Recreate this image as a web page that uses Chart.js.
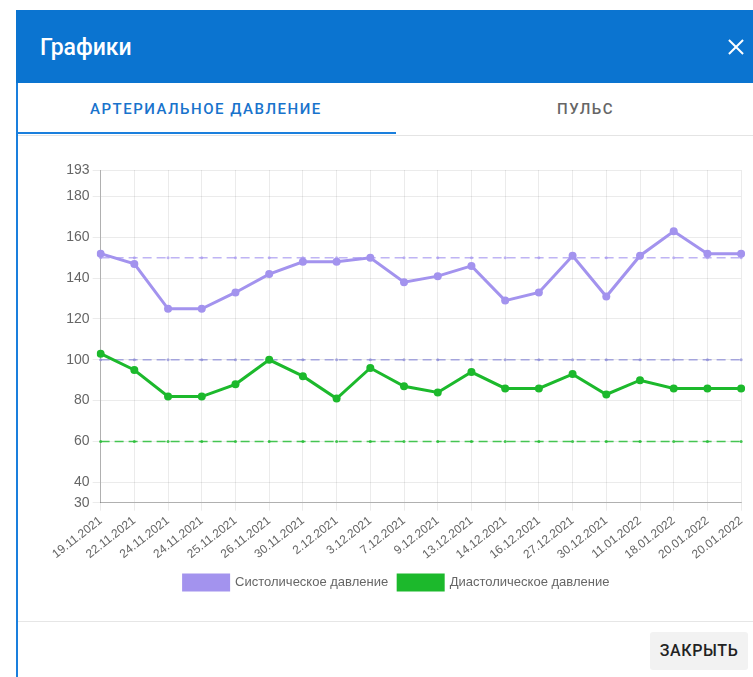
<!DOCTYPE html>
<html>
<head>
<meta charset="utf-8">
<script src="https://cdn.jsdelivr.net/npm/chart.js@4"></script>
<style>
  body { margin: 0; width: 753px; height: 677px; background: #fff; overflow: hidden; font-family: Roboto, sans-serif; position: relative; }
  .dialog { position: absolute; left: 16px; top: 10px; width: 760px; height: 700px; background: #fff; border-left: 2px solid #1a7fdd; }
  .header { position: absolute; left: -2px; top: 0; width: 762px; height: 73px; background: #0b74d0; }
  .header h1 { position: absolute; left: 24px; top: 24px; margin: 0; font-size: 23px; font-weight: 500; color: #fff; }
  .close { position: absolute; left: 712px; top: 29px; width: 16px; height: 16px; }
  .close::before, .close::after { content: ""; position: absolute; left: -2px; top: 7px; width: 20px; height: 2px; background: #fff; }
  .close::before { transform: rotate(45deg); }
  .close::after { transform: rotate(-45deg); }
  .tabs { position: absolute; left: 0; top: 73px; width: 760px; height: 52px; border-bottom: 1px solid #e4e4e4; }
  .tab { position: absolute; top: 17px; font-size: 15px; font-weight: 500; letter-spacing: 1.5px; }
  .tab1 { left: 72px; color: #1873cc; }
  .tab2 { left: 539px; color: #666; }
  .ink { position: absolute; left: 0; top: 49px; width: 378px; height: 2px; background: #1a7fdd; }
  .chartbox { position: absolute; left: 33px; top: 145px; width: 702px; height: 445px; }
  .footer { position: absolute; left: 0; top: 611px; width: 760px; border-top: 1px solid #e6e6e6; }
  .btn { position: absolute; left: 632px; top: 10px; width: 98px; height: 38px; background: #f2f2f2; border-radius: 3px; font-size: 16px; font-weight: 500; color: #222; text-align: center; line-height: 38px; letter-spacing: 0.6px; }
</style>
</head>
<body>
<div class="dialog">
  <div class="header"><h1>Графики</h1><div class="close"></div></div>
  <div class="tabs">
    <div class="tab tab1">АРТЕРИАЛЬНОЕ ДАВЛЕНИЕ</div>
    <div class="tab tab2">ПУЛЬС</div>
    <div class="ink"></div>
  </div>
  <div class="chartbox"><canvas id="bpChart"></canvas></div>
  <div class="footer"><div class="btn">ЗАКРЫТЬ</div></div>
</div>
<script>
const dates = [
  "19.11.2021", "22.11.2021", "24.11.2021", "24.11.2021", "25.11.2021",
  "26.11.2021", "30.11.2021", "2.12.2021", "3.12.2021", "7.12.2021",
  "9.12.2021", "13.12.2021", "14.12.2021", "16.12.2021", "27.12.2021",
  "30.12.2021", "11.01.2022", "18.01.2022", "20.01.2022", "20.01.2022"
];
const systolic = [152, 147, 125, 125, 133, 142, 148, 148, 150, 138, 141, 146, 129, 133, 151, 131, 151, 163, 152, 152];
const diastolic = [103, 95, 82, 82, 88, 100, 92, 81, 96, 87, 84, 94, 86, 86, 93, 83, 90, 86, 86, 86];
const systolicNorm = 150;
const upperNorm = 100;
const diastolicNorm = 60;
const yMin = 30;
const yMax = 193;

const font = "'Helvetica Neue', Helvetica, 'Liberation Sans', Arial, sans-serif";

function normLine(value, color) {
  return {
    label: "norm",
    data: dates.map(() => value),
    borderColor: color,
    backgroundColor: color,
    borderWidth: 1.5,
    borderDash: [9, 5],
    pointRadius: 1.5,
    pointBorderWidth: 0,
    fill: false,
  };
}

const ctx = document.getElementById("bpChart").getContext("2d");
new Chart(ctx, {
  type: "line",
  data: {
    labels: dates,
    datasets: [
      {
        label: "Систолическое давление",
        data: systolic,
        borderColor: "#a393ee",
        backgroundColor: "#a393ee",
        borderWidth: 3,
        pointRadius: 4,
        pointBorderWidth: 0,
        fill: false,
      },
      {
        label: "Диастолическое давление",
        data: diastolic,
        borderColor: "#1cb92c",
        backgroundColor: "#1cb92c",
        borderWidth: 3,
        pointRadius: 4,
        pointBorderWidth: 0,
        fill: false,
      },
      normLine(systolicNorm, "rgba(170,155,240,0.75)"),
      normLine(upperNorm, "rgba(140,140,215,0.75)"),
      normLine(diastolicNorm, "rgba(40,190,55,0.85)"),
    ],
  },
  options: {
    responsive: true,
    maintainAspectRatio: false,
    animation: false,
    layout: { padding: { top: 15, right: 11, left: 0, bottom: 0 } },
    plugins: {
      legend: {
        position: "bottom",
        labels: {
          boxWidth: 45,
          boxHeight: 15,
          padding: 10,
          color: "#666",
          font: { size: 13, family: font },
          filter: (item) => item.datasetIndex < 2,
        },
      },
      tooltip: { enabled: false },
    },
    scales: {
      y: {
        min: yMin,
        max: yMax,
        ticks: { stepSize: 20, color: "#666", padding: 3, font: { size: 14, family: font } },
        grid: { color: "rgba(0,0,0,0.08)", tickLength: 8 },
        border: { color: "rgba(0,0,0,0.25)" },
      },
      x: {
        ticks: {
          color: "#666",
          minRotation: 38,
          maxRotation: 38,
          autoSkip: false,
          font: { size: 12, family: font },
        },
        grid: { color: "rgba(0,0,0,0.08)" },
        border: { color: "rgba(0,0,0,0.25)" },
      },
    },
  },
});
</script>
</body>
</html>
